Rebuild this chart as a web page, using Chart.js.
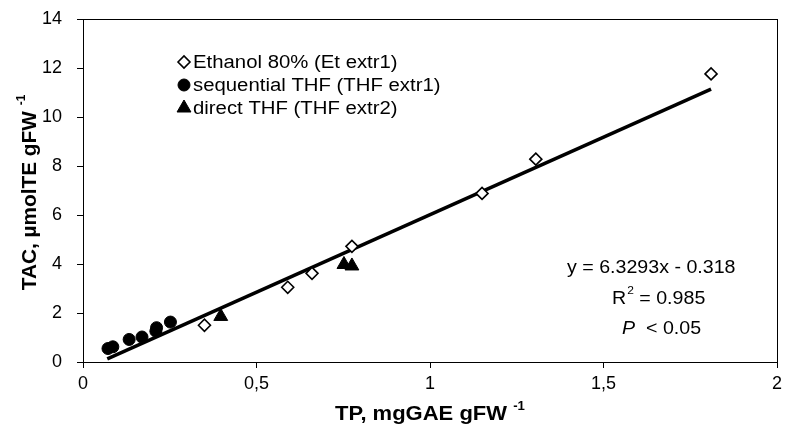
<!DOCTYPE html>
<html>
<head>
<meta charset="utf-8">
<script src="https://cdn.jsdelivr.net/npm/chart.js@4.4.1/dist/chart.umd.min.js"></script>
<style>
  html, body { margin: 0; padding: 0; background: #fff; }
  #wrap { width: 786px; height: 426px; position: relative; }
</style>
</head>
<body>
<div id="wrap"><canvas id="tacChart"></canvas></div>
<script>
// values
const ethanolX = [0.35, 0.59, 0.66, 0.775, 1.15, 1.305, 1.81];
const ethanolY = [1.5, 3.05, 3.62, 4.72, 6.88, 8.28, 11.76];
const thf1X = [0.072, 0.086, 0.133, 0.17, 0.21, 0.212, 0.252];
const thf1Y = [0.55, 0.62, 0.92, 1.02, 1.26, 1.4, 1.63];
const thf2X = [0.397, 0.752, 0.775];
const thf2Y = [1.86, 3.98, 3.92];
const trendX = [0.07, 1.81];
const trendY = [0.125, 11.14];

const xTickLabels = ['0', '0,5', '1', '1,5', '2'];
const yTickLabels = ['0', '2', '4', '6', '8', '10', '12', '14'];
const legendNames = ['Ethanol 80% (Et extr1)', 'sequential THF (THF extr1)', 'direct THF (THF extr2)'];

const FONT = '"Liberation Sans", Arial, sans-serif';

function pts(xs, ys) {
  return xs.map((x, i) => ({ x: x, y: ys[i] }));
}

// draws text stretched sideways like the original (wide) picture, returns its width
function wideText(ctx, text, x, y, font, sx) {
  ctx.font = font;
  const w = ctx.measureText(text).width * sx;
  ctx.save();
  ctx.translate(x, y);
  ctx.scale(sx, 1);
  ctx.textAlign = 'left';
  ctx.fillText(text, 0, 0);
  ctx.restore();
  return w;
}

const frame = {
  id: 'frame',
  afterDraw(chart) {
    const ctx = chart.ctx;
    const a = chart.chartArea;
    ctx.save();
    ctx.strokeStyle = '#000';
    ctx.lineWidth = 1;
    ctx.strokeRect(Math.round(a.left) + 0.5, Math.round(a.top) + 0.5,
      Math.round(a.right - a.left), Math.round(a.bottom - a.top));
    ctx.restore();
  }
};

const annotations = {
  id: 'annotations',
  afterDraw(chart) {
    const ctx = chart.ctx;
    ctx.save();
    ctx.textBaseline = 'middle';

    // legend inside the plot
    const rowsY = [62, 85, 108];
    for (let i = 0; i < 3; i++) {
      const ds = chart.data.datasets[i];
      ctx.fillStyle = ds.backgroundColor;
      ctx.strokeStyle = ds.borderColor;
      ctx.lineWidth = ds.borderWidth;
      Chart.helpers.drawPoint(ctx, {
        pointStyle: ds.pointStyle,
        radius: ds.pointRadius,
        borderWidth: ds.borderWidth,
        rotation: 0
      }, 184, rowsY[i]);
      ctx.fillStyle = '#000';
      wideText(ctx, legendNames[i], 193, rowsY[i] + 1, '18px ' + FONT, 1.13);
    }

    // regression text
    const f = '18px ' + FONT;
    wideText(ctx, 'y = 6.3293x - 0.318', 567, 268, f, 1.09);
    let x = 612;
    x += wideText(ctx, 'R', x, 299, f, 1.09);
    x += wideText(ctx, '2', x + 1, 291, '11px ' + FONT, 1.09) + 1;
    wideText(ctx, ' = 0.985', x, 299, f, 1.09);
    x = 622;
    x += wideText(ctx, 'P', x, 329, 'italic ' + f, 1.09);
    wideText(ctx, '  < 0.05', x, 329, f, 1.09);

    // axis titles
    const bf = 'bold 20px ' + FONT;
    const bs = 'bold 12px ' + FONT;
    ctx.font = bf;
    let w1 = ctx.measureText('TP, mgGAE gFW ').width * 1.1;
    ctx.font = bs;
    let w2 = ctx.measureText('-1').width * 1.1;
    x = 430 - (w1 + w2) / 2;
    wideText(ctx, 'TP, mgGAE gFW ', x, 414, bf, 1.1);
    wideText(ctx, '-1', x + w1, 407, bs, 1.1);

    ctx.translate(30, 196);
    ctx.rotate(-Math.PI / 2);
    ctx.font = bf;
    w1 = ctx.measureText('TAC, µmolTE gFW ').width;
    ctx.font = bs;
    w2 = ctx.measureText('-1').width;
    x = -(w1 + w2) / 2;
    wideText(ctx, 'TAC, µmolTE gFW ', x, 0, bf, 1.04);
    wideText(ctx, '-1', x + w1 * 1.04, -8, bs, 1);
    ctx.restore();
  }
};

const ctx = document.getElementById('tacChart').getContext('2d');
new Chart(ctx, {
  type: 'scatter',
  data: {
    datasets: [
      {
        label: legendNames[0],
        data: pts(ethanolX, ethanolY),
        pointStyle: 'rectRot',
        pointRadius: 6,
        borderWidth: 1.6,
        borderColor: '#000',
        backgroundColor: '#fff'
      },
      {
        label: legendNames[1],
        data: pts(thf1X, thf1Y),
        pointStyle: 'circle',
        pointRadius: 6,
        borderWidth: 1,
        borderColor: '#000',
        backgroundColor: '#000'
      },
      {
        label: legendNames[2],
        data: pts(thf2X, thf2Y),
        pointStyle: 'triangle',
        pointRadius: 8,
        borderWidth: 1,
        borderColor: '#000',
        backgroundColor: '#000'
      },
      {
        label: 'trend',
        data: pts(trendX, trendY),
        showLine: true,
        pointRadius: 0,
        borderColor: '#000',
        borderWidth: 3.5,
        order: 5
      }
    ]
  },
  options: {
    responsive: true,
    maintainAspectRatio: false,
    animation: false,
    layout: { padding: { left: 0, top: 19, right: 7, bottom: 0 } },
    scales: {
      x: {
        type: 'linear',
        min: 0,
        max: 2,
        afterFit: s => { s.height = 64; s.paddingLeft = 0; s.paddingRight = 0; },
        grid: { drawOnChartArea: false, drawTicks: true, tickLength: 6, color: '#000' },
        border: { display: true, color: '#000' },
        ticks: {
          stepSize: 0.5,
          padding: 5,
          color: '#000',
          font: { family: FONT, size: 18 },
          callback: (v, i) => xTickLabels[i]
        }
      },
      y: {
        type: 'linear',
        min: 0,
        max: 14,
        afterFit: s => { s.width = 83; s.paddingTop = 0; s.paddingBottom = 0; },
        grid: { drawOnChartArea: false, drawTicks: true, tickLength: 6, color: '#000' },
        border: { display: true, color: '#000' },
        ticks: {
          stepSize: 2,
          padding: 15,
          color: '#000',
          font: { family: FONT, size: 18 },
          callback: (v, i) => yTickLabels[i]
        }
      }
    },
    plugins: {
      legend: { display: false },
      tooltip: { enabled: false }
    }
  },
  plugins: [frame, annotations]
});
</script>
</body>
</html>
